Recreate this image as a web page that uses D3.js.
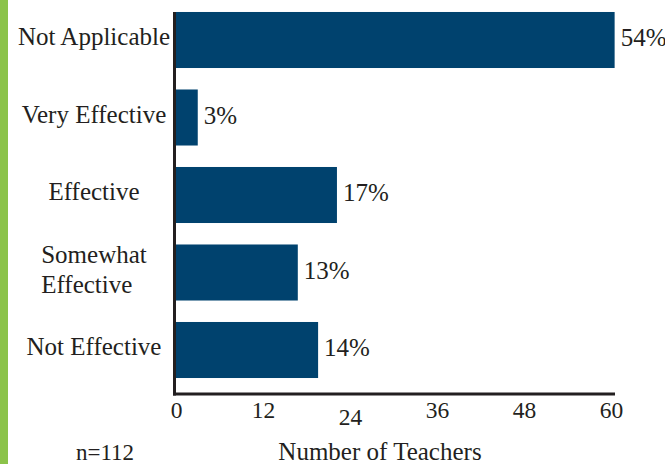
<!DOCTYPE html>
<html>
<head>
<meta charset="utf-8">
<script src="https://cdn.jsdelivr.net/npm/d3@7"></script>
<style>
  body { margin: 0; background: #fff; }
  svg { display: block; }
  svg text { font-family: "Liberation Serif", "Times New Roman", serif; }
</style>
</head>
<body>
<div id="chart"></div>
<script>
// Data
const categories = ["Not Applicable", "Very Effective", "Effective", "Somewhat Effective", "Not Effective"];
const categoryLines = [["Not Applicable"], ["Very Effective"], ["Effective"], ["Somewhat", "Effective"], ["Not Effective"]];
const teacherCounts = [60.5, 3, 22.2, 16.8, 19.6];
const percentLabels = ["54%", "3%", "17%", "13%", "14%"];
const xTicks = [0, 12, 24, 36, 48, 60];
const sampleNote = "n=112";
const xTitle = "Number of Teachers";

const width = 665, height = 464;
const barColor = "#00426e";
const inkColor = "#231f20";
const serif = "Liberation Serif";

const svg = d3.select("#chart").append("svg")
    .attr("width", width)
    .attr("height", height);

// green stripe on the left edge
svg.append("rect")
    .attr("x", 0).attr("y", 0)
    .attr("width", 8).attr("height", height)
    .attr("fill", "#8bc34a");

const x = d3.scaleLinear().domain([0, 60]).range([176, 611]);
const y = d3.scaleBand().domain(categories)
    .range([1.25, 388.75])
    .paddingInner(0.277)
    .paddingOuter(0.1385);

// bars
svg.selectAll(".bar")
    .data(categories)
    .enter().append("rect")
    .attr("class", "bar")
    .attr("x", x(0))
    .attr("y", d => y(d))
    .attr("width", (d, i) => x(teacherCounts[i]) - x(0))
    .attr("height", y.bandwidth())
    .attr("fill", barColor);

// value labels
svg.selectAll(".val")
    .data(categories)
    .enter().append("text")
    .attr("class", "val")
    .attr("x", (d, i) => x(teacherCounts[i]) + 6)
    .attr("y", d => y(d) + y.bandwidth() / 2 + 6)
    .attr("font-family", serif)
    .attr("font-size", 25)
    .attr("fill", inkColor)
    .text((d, i) => percentLabels[i]);

// category labels: multi-line blocks, left aligned inside, centred as a block
const lineH = 30;
categories.forEach((c, i) => {
    const lines = categoryLines[i];
    const cy = y(c) + y.bandwidth() / 2;
    const firstBase = cy + 5 - (lines.length - 1) * lineH / 2;
    const t = svg.append("text")
        .attr("font-family", serif)
        .attr("font-size", 25)
        .attr("fill", inkColor)
        .attr("text-anchor", "start");
    lines.forEach((ln, j) => {
        t.append("tspan").attr("x", 0).attr("y", firstBase + j * lineH).text(ln);
    });
    const w = t.node().getBBox().width;
    t.selectAll("tspan").attr("x", 94 - w / 2);
});

// axes lines
svg.append("line")
    .attr("x1", 174.5).attr("x2", 174.5)
    .attr("y1", 12).attr("y2", 395.5)
    .attr("stroke", inkColor).attr("stroke-width", 3);

const xAxis = svg.append("g")
    .attr("transform", "translate(0,394)")
    .call(d3.axisBottom(x).tickValues(xTicks).tickSize(0).tickPadding(0));
xAxis.attr("font-family", serif);
xAxis.select(".domain")
    .attr("d", `M173,0H615`)
    .attr("stroke", inkColor).attr("stroke-width", 3);
xAxis.selectAll(".tick text")
    .attr("font-family", serif)
    .attr("font-size", 23.5)
    .attr("fill", inkColor)
    .attr("dy", null)
    .attr("y", d => d === 24 ? 31 : 24);

// titles
svg.append("text")
    .attr("x", 380).attr("y", 460)
    .attr("text-anchor", "middle")
    .attr("font-family", serif)
    .attr("font-size", 25)
    .attr("fill", inkColor)
    .text(xTitle);

svg.append("text")
    .attr("x", 105).attr("y", 460)
    .attr("text-anchor", "middle")
    .attr("font-family", serif)
    .attr("font-size", 23)
    .attr("fill", inkColor)
    .text(sampleNote);
</script>
</body>
</html>
